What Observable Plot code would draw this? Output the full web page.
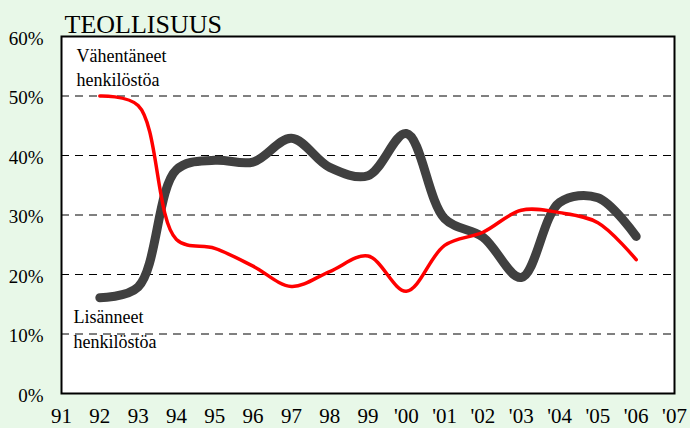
<!DOCTYPE html>
<html><head><meta charset="utf-8">
<script src="https://cdn.jsdelivr.net/npm/d3@7"></script>
<script src="https://cdn.jsdelivr.net/npm/@observablehq/plot@0.6"></script>
<style>body{margin:0;background:#e8f8e8;} svg{display:block} svg text{font-family:"Liberation Serif","Times New Roman",serif !important;}</style>
</head><body><div id="chart"></div>
<script>
const years = [1992,1993,1994,1995,1996,1997,1998,1999,2000,2001,2002,2003,2004,2005,2006];
const reduced = [50.0,48.4,25.9,24.4,21.4,18.0,20.5,23.1,17.2,24.9,27.1,30.8,30.4,28.7,22.5];
const increased = [16.1,17.9,37.6,39.2,38.9,42.9,38.0,36.6,43.7,29.4,26.3,19.5,32.1,32.9,26.4];
const xTicks = d3.range(1991, 2008);
const yTicks = [0,10,20,30,40,50,60];
const gridVals = [10,20,30,40,50];
const title = "TEOLLISUUS";
const labelReduced = "Vähentäneet\nhenkilöstöa";
const labelIncreased = "Lisänneet\nhenkilöstöa";

const redData = years.map((y,i)=>({year:y, value:reduced[i]}));
const greyData = years.map((y,i)=>({year:y, value:increased[i]}));
const fmtYear = d => d < 2000 ? String(d % 100) : "'" + String(d % 100).padStart(2,"0");

const chart = Plot.plot({
  width: 690, height: 428,
  marginLeft: 61, marginRight: 16, marginTop: 36, marginBottom: 35,
  style: {background: "#e8f8e8", fontFamily: "Liberation Serif", color: "black"},
  x: {domain: [1991, 2007]},
  y: {domain: [0, 60]},
  marks: [
    Plot.frame({fill: "white"}),
    Plot.ruleY(gridVals, {stroke: "black", strokeWidth: 1, strokeDasharray: "8,6"}),
    Plot.line(greyData, {x: "year", y: "value", stroke: "#404040", strokeWidth: 9, curve: "catmull-rom", strokeLinecap: "round"}),
    Plot.line(redData, {x: "year", y: "value", stroke: "#ff0000", strokeWidth: 3.5, curve: "catmull-rom"}),
    Plot.frame({stroke: "black", strokeWidth: 2}),
    Plot.axisY({ticks: yTicks, tickFormat: d => d + "%", tickSize: 0, tickPadding: 18, fontSize: 19, label: null, dy: 2}),
    Plot.axisX({ticks: xTicks, tickFormat: fmtYear, tickSize: 0, tickPadding: 15, fontSize: 21, label: null}),
    Plot.text([title], {frameAnchor: "top-left", dx: 3, dy: -12, lineAnchor: "middle", textAnchor: "start", fontSize: 26, fill: "black"}),
    Plot.text([labelReduced], {frameAnchor: "top-left", dx: 15, dy: 9, lineAnchor: "top", textAnchor: "start", fontSize: 18, lineHeight: 1.33, fill: "black"}),
    Plot.text([labelIncreased], {frameAnchor: "top-left", dx: 12, dy: 269, lineAnchor: "top", textAnchor: "start", fontSize: 18, lineHeight: 1.38, fill: "black"})
  ]
});
document.getElementById("chart").append(chart);
</script>
</body></html>
